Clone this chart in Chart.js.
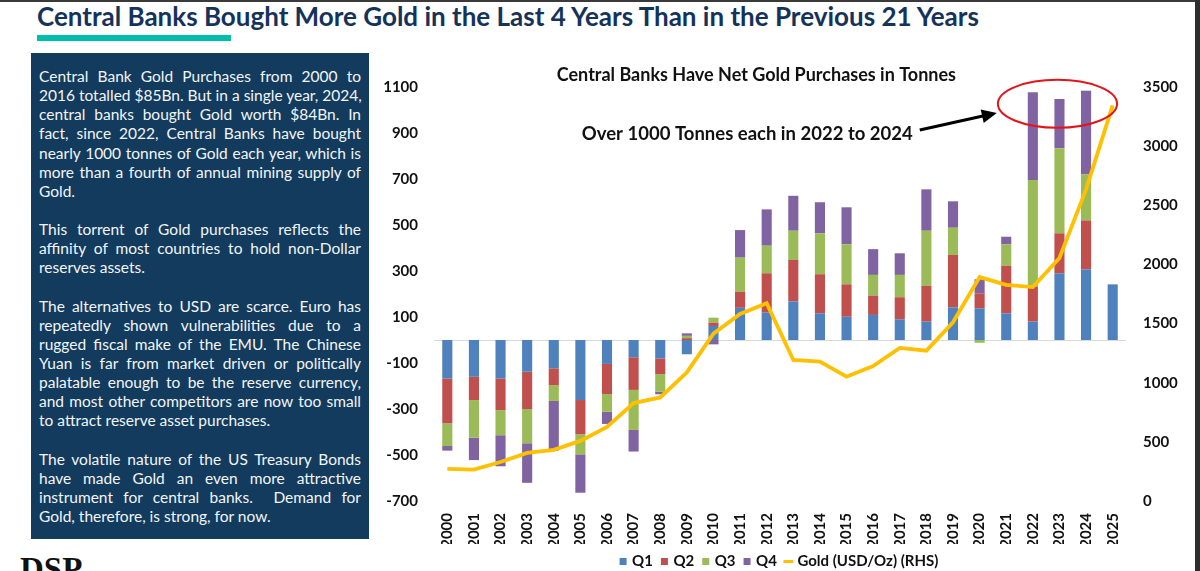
<!DOCTYPE html>
<html>
<head>
<meta charset="utf-8">
<script src="https://cdn.jsdelivr.net/npm/chart.js@4.4.1/dist/chart.umd.min.js"></script>
<style>
  html, body { margin: 0; padding: 0; }
  body { width: 1200px; height: 571px; position: relative; overflow: hidden; background: #fff; font-family: Lato, sans-serif; }
  #topline { position: absolute; left: 0; top: 0; width: 1200px; height: 2px; background: #3a3a3a; }
  #rightline { position: absolute; left: 1195px; top: 0; width: 5px; height: 571px; background: #2e2e2e; }
  #title { position: absolute; left: 37px; top: 3px; font-weight: bold; font-size: 24px; line-height: 1; color: #14325a; white-space: nowrap; display: inline-block; }
  #accent { position: absolute; left: 37px; top: 35px; width: 194px; height: 6px; background: #00bfa8; }
  #panel { position: absolute; left: 31px; top: 53px; width: 322px; height: 472px; padding: 14px 8px 0 8px; background: #123b5e; color: #f2f5f8; font-size: 15.5px; }
  #panel div { line-height: 19.13px; height: 19.13px; white-space: nowrap; }
  #panel .j { text-align: justify; text-align-last: justify; }
  #logo { position: absolute; left: 20px; top: 553px; font-family: "Liberation Serif", serif; font-weight: bold; font-size: 33px; line-height: 1; color: #111; }
  #chartBox { position: absolute; left: 378px; top: 60px; width: 817px; height: 520px; }
</style>
</head>
<body>
<div id="topline"></div>
<div id="title">Central Banks Bought More Gold in the Last 4 Years Than in the Previous 21 Years</div>
<div id="accent"></div>
<div id="panel">
  <div class="j">Central Bank Gold Purchases from 2000 to</div>
  <div class="j">2016 totalled $85Bn. But in a single year, 2024,</div>
  <div class="j">central banks bought Gold worth $84Bn. In</div>
  <div class="j">fact, since 2022, Central Banks have bought</div>
  <div class="j">nearly 1000 tonnes of Gold each year, which is</div>
  <div class="j">more than a fourth of annual mining supply of</div>
  <div>Gold.</div>
  <div></div>
  <div class="j">This torrent of Gold purchases reflects the</div>
  <div class="j">affinity of most countries to hold non-Dollar</div>
  <div>reserves assets.</div>
  <div></div>
  <div class="j">The alternatives to USD are scarce. Euro has</div>
  <div class="j">repeatedly shown vulnerabilities due to a</div>
  <div class="j">rugged fiscal make of the EMU. The Chinese</div>
  <div class="j">Yuan is far from market driven or politically</div>
  <div class="j">palatable enough to be the reserve currency,</div>
  <div class="j">and most other competitors are now too small</div>
  <div>to attract reserve asset purchases.</div>
  <div></div>
  <div class="j">The volatile nature of the US Treasury Bonds</div>
  <div class="j">have made Gold an even more attractive</div>
  <div class="j">instrument for central banks.&nbsp; Demand for</div>
  <div>Gold, therefore, is strong, for now.</div>
</div>
<div id="logo">DSP</div>
<div id="chartBox"><canvas id="goldChart" width="817" height="520"></canvas></div>
<div id="rightline"></div>

<script>
// Years on the x axis
const years = ['2000', '2001', '2002', '2003', '2004', '2005', '2006', '2007', '2008', '2009',
  '2010', '2011', '2012', '2013', '2014', '2015', '2016', '2017', '2018', '2019',
  '2020', '2021', '2022', '2023', '2024', '2025'];

// Central bank net purchases per quarter, tonnes
const q1 = [-167, -160, -167, -138, -123, -261, -104, -75, -80, -62, 61, 140, 119, 168, 116, 101, 109, 90, 80, 142, 138, 116, 80, 290, 307, 242];
const q2 = [-195, -101, -138, -162, -73, -149, -131, -142, -68, 8, 14, 70, 171, 180, 170, 141, 84, 96, 155, 228, 65, 207, 152, 174, 213, null];
const q3 = [-99, -164, -109, -149, -69, -87, -77, -174, -77, 10, 22, 148, 120, 127, 178, 174, 90, 97, 240, 118, -12, 93, 464, 370, 200, null];
const q4 = [-20, -97, -135, -172, -216, -167, -53, -94, -11, 11, -19, 120, 158, 152, 135, 161, 112, 94, 180, 115, 61, 33, 381, 214, 364, null];

// Gold price, USD per ounce (right axis)
const goldPrice = [272, 265, 330, 407, 432, 508, 627, 828, 876, 1087, 1415, 1582, 1672, 1192, 1178, 1051, 1141, 1294, 1271, 1511, 1893, 1828, 1808, 2054, 2635, 3345];

// Axis settings
const leftAxis = { min: -700, max: 1100, step: 200 };
const rightAxis = { min: 0, max: 3500, step: 500 };

const chartHeading = 'Central Banks Have Net Gold Purchases in Tonnes';
const calloutText = 'Over 1000 Tonnes each in 2022 to 2024';

// fit the page title to the width it has in the original
const titleEl = document.getElementById('title');
titleEl.style.fontSize = (24 * 942 / titleEl.getBoundingClientRect().width) + 'px';

const tickFont = { family: 'Lato', size: 15, weight: 'bold' };
const plainNumber = v => String(v); // no thousands separator

// zero line, heading, callout and ellipse
const annotations = {
  id: 'annotations',
  beforeDatasetsDraw(chart) {
    const { ctx, chartArea, scales: { y } } = chart;
    const y0 = Math.round(y.getPixelForValue(0)) + 0.5;
    ctx.save();
    ctx.strokeStyle = '#d9d9d9';
    ctx.lineWidth = 1;
    ctx.beginPath();
    ctx.moveTo(chartArea.left, y0);
    ctx.lineTo(chartArea.right, y0);
    ctx.stroke();
    ctx.restore();
  },
  afterDraw(chart) {
    const { ctx, scales: { x, y } } = chart;
    const step = x.getPixelForValue(1) - x.getPixelForValue(0);
    ctx.save();

    ctx.fillStyle = '#111';
    ctx.textBaseline = 'middle';
    ctx.font = 'bold 18px Lato';
    ctx.textAlign = 'center';
    ctx.fillText(chartHeading, x.getPixelForValue(11.5) + 3, y.getPixelForValue(1150));

    ctx.font = 'bold 18.5px Lato';
    ctx.textAlign = 'right';
    ctx.fillText(calloutText, x.getPixelForValue(17) + 13, y.getPixelForValue(896));

    // arrow
    const x1 = x.getPixelForValue(17) + 20, y1 = y.getPixelForValue(913);
    const x2 = x.getPixelForValue(22) - 36, y2 = y.getPixelForValue(987);
    const ang = Math.atan2(y2 - y1, x2 - x1);
    ctx.strokeStyle = '#000';
    ctx.lineWidth = 3;
    ctx.beginPath();
    ctx.moveTo(x1, y1);
    ctx.lineTo(x2 - 12 * Math.cos(ang), y2 - 12 * Math.sin(ang));
    ctx.stroke();
    ctx.fillStyle = '#000';
    ctx.beginPath();
    ctx.moveTo(x2, y2);
    ctx.lineTo(x2 - 15 * Math.cos(ang) + 7 * Math.sin(ang), y2 - 15 * Math.sin(ang) - 7 * Math.cos(ang));
    ctx.lineTo(x2 - 15 * Math.cos(ang) - 7 * Math.sin(ang), y2 - 15 * Math.sin(ang) + 7 * Math.cos(ang));
    ctx.closePath();
    ctx.fill();

    // red ellipse round 2022-2024
    const cy = y.getPixelForValue(1027);
    ctx.strokeStyle = '#e3141c';
    ctx.lineWidth = 2;
    ctx.beginPath();
    ctx.ellipse(x.getPixelForValue(23) - 2, cy, step * 2.24, y.getPixelForValue(923) - cy, 0, 0, Math.PI * 2);
    ctx.stroke();
    ctx.restore();
  }
};

const barCtx = document.getElementById('goldChart').getContext('2d');

const quarterSet = (label, data, color) => ({
  type: 'bar',
  label: label,
  data: data,
  backgroundColor: color,
  borderWidth: 0,
  yAxisID: 'y',
  stack: 'q',
  barPercentage: 0.38,
  categoryPercentage: 1,
  order: 1
});

new Chart(barCtx, {
  type: 'bar',
  data: {
    labels: years,
    datasets: [
      quarterSet('Q1', q1, '#4f81bd'),
      quarterSet('Q2', q2, '#c0504d'),
      quarterSet('Q3', q3, '#9bbb59'),
      quarterSet('Q4', q4, '#8064a2'),
      {
        type: 'line',
        label: 'Gold (USD/Oz) (RHS)',
        data: goldPrice,
        borderColor: '#ffc000',
        backgroundColor: '#ffc000',
        borderWidth: 3.8,
        pointRadius: 0,
        tension: 0,
        yAxisID: 'y2',
        order: 0
      }
    ]
  },
  options: {
    responsive: false,
    animation: false,
    layout: { padding: { top: 27, bottom: 1, left: 0, right: 0 } },
    scales: {
      x: {
        stacked: true,
        grid: { display: false, drawTicks: false },
        border: { display: false },
        ticks: { font: tickFont, color: '#111', minRotation: 90, maxRotation: 90, padding: 12, autoSkip: false },
        afterFit: s => { s.height = 43; }
      },
      y: {
        position: 'left',
        stacked: true,
        min: leftAxis.min,
        max: leftAxis.max,
        grid: { display: false, drawTicks: false },
        border: { display: false },
        ticks: { stepSize: leftAxis.step, font: tickFont, color: '#111', padding: 16, callback: plainNumber },
        afterFit: s => { s.width = 56; }
      },
      y2: {
        position: 'right',
        min: rightAxis.min,
        max: rightAxis.max,
        grid: { display: false, drawTicks: false },
        border: { display: false },
        ticks: { stepSize: rightAxis.step, font: tickFont, color: '#111', padding: 17, callback: plainNumber },
        afterFit: s => { s.width = 69; }
      }
    },
    plugins: {
      tooltip: { enabled: false },
      legend: {
        position: 'bottom',
        fullSize: false,
        labels: {
          usePointStyle: true,
          boxWidth: 3,
          boxHeight: 7,
          padding: 10,
          color: '#111',
          font: { family: 'Lato', size: 15, weight: 'bold' },
          sort: (a, b) => a.datasetIndex - b.datasetIndex,
          generateLabels(chart) {
            const items = Chart.defaults.plugins.legend.labels.generateLabels(chart);
            items.forEach(it => {
              const ds = chart.data.datasets[it.datasetIndex];
              if (ds.type === 'line') {
                it.pointStyle = 'line';
                it.strokeStyle = ds.borderColor;
                it.lineWidth = 3;
              } else {
                it.pointStyle = 'rect';
                it.lineWidth = 0;
              }
            });
            return items;
          }
        }
      }
    }
  },
  plugins: [annotations]
});
</script>
</body>
</html>
